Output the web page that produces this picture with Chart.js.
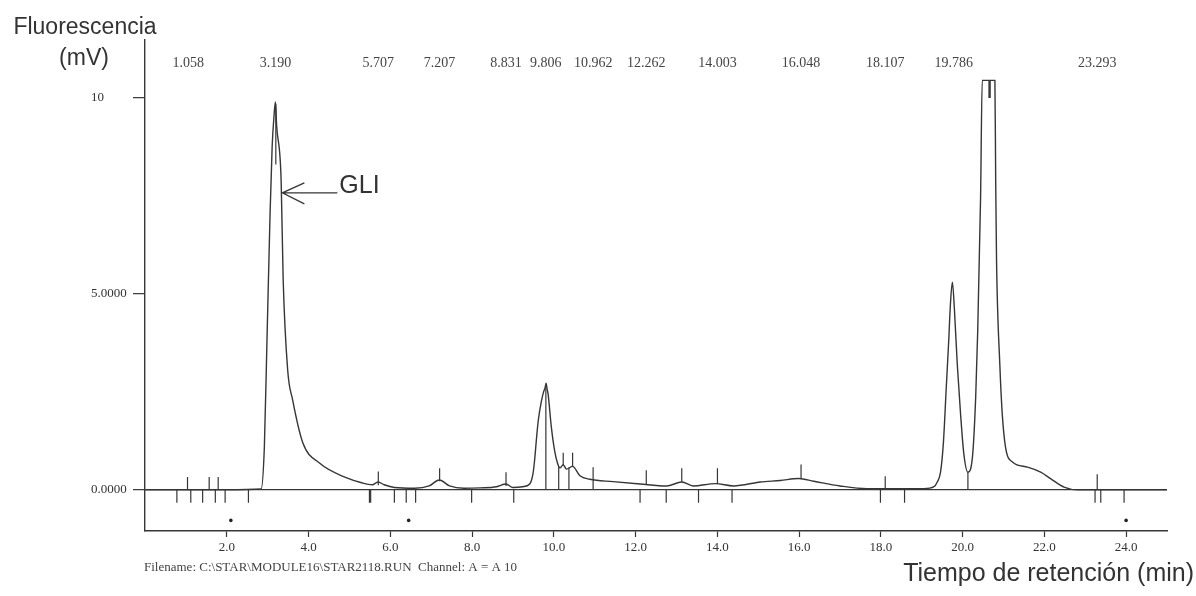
<!DOCTYPE html>
<html>
<head>
<meta charset="utf-8">
<title>Cromatograma</title>
<script src="https://cdn.jsdelivr.net/npm/chart.js@4.4.1/dist/chart.umd.min.js"></script>
<style>
  html, body { margin: 0; padding: 0; background: #fff; }
  #chrom { display: block; }
</style>
</head>
<body>
<canvas id="chrom" width="1196" height="596"></canvas>
<script>
// Retention time (min) and detector signal (mV)
const traceTime = [0, 1.0, 2.0, 2.84, 2.92, 2.98, 3.06, 3.11, 3.16, 3.19, 3.22, 3.33, 3.38, 3.49, 3.61, 3.86, 4.26, 4.92, 5.3, 5.56, 5.7, 5.85, 6.1, 6.6, 6.95, 7.2, 7.45, 7.8, 8.2, 8.6, 8.83, 9.0, 9.24, 9.41, 9.49, 9.53, 9.58, 9.62, 9.7, 9.75, 9.79, 9.81, 9.84, 9.86, 9.94, 10.02, 10.11, 10.15, 10.23, 10.31, 10.46, 10.64, 10.88, 11.45, 12.11, 12.76, 13.13, 13.41, 13.95, 14.4, 15.05, 15.54, 15.99, 16.36, 17.0, 17.66, 19.05, 19.3, 19.38, 19.46, 19.53, 19.6, 19.66, 19.7, 19.75, 19.8, 19.87, 19.95, 20.03, 20.13, 20.24, 20.32, 20.37, 20.44, 20.48, 20.79, 20.81, 20.83, 20.91, 20.97, 21.05, 21.22, 21.59, 21.91, 22.16, 22.48, 22.81, 25];
const traceSignal = [0, 0, 0, 0.02, 1.1, 3.65, 7.07, 8.75, 9.6, 9.9, 9.3, 7.9, 5.36, 3.06, 2.3, 1.2, 0.69, 0.31, 0.18, 0.13, 0.2, 0.13, 0.06, 0.04, 0.1, 0.25, 0.1, 0.04, 0.05, 0.08, 0.15, 0.06, 0.08, 0.15, 0.41, 0.75, 1.35, 1.77, 2.28, 2.5, 2.62, 2.72, 2.55, 2.45, 1.6, 1.0, 0.62, 0.56, 0.64, 0.53, 0.6, 0.36, 0.27, 0.21, 0.15, 0.1, 0.2, 0.1, 0.16, 0.1, 0.2, 0.24, 0.29, 0.22, 0.1, 0.03, 0.03, 0.08, 0.2, 0.45, 1.2, 2.6, 3.8, 4.7, 5.3, 4.6, 3.2, 1.94, 0.92, 0.45, 0.83, 2.36, 4.06, 7.47, 10.45, 10.45, 7.82, 5.87, 3.21, 1.94, 1.09, 0.71, 0.58, 0.45, 0.28, 0.07, 0, 0];

// Integrated peaks, labelled across the top
const peakTimes = [1.058, 3.190, 5.707, 7.207, 8.831, 9.806, 10.962, 12.262, 14.003, 16.048, 18.107, 19.786, 23.293];

// Peak marks: [time, from mV, to mV]
const apexMarks = [[1.04, 0, 0.33], [1.57, 0, 0.33], [1.79, 0, 0.33], [5.707, 0.12, 0.47], [7.207, 0.22, 0.55], [8.831, 0.1, 0.45], [10.23, 0.62, 0.95], [10.46, 0.6, 0.95], [10.962, 0, 0.58], [12.262, 0.15, 0.5], [13.13, 0.2, 0.55], [14.003, 0.15, 0.55], [16.048, 0.28, 0.65], [18.107, 0, 0.35], [23.293, 0, 0.4]];
const dropLines = [[3.2, 8.3, 9.85], [9.806, 0, 2.65], [10.12, 0, 0.6], [10.37, 0, 0.57], [20.13, 0, 0.45], [20.645, 10.0, 10.45], [20.675, 10.0, 10.45]];
const baseTicks = [0.78, 1.12, 1.41, 1.72, 1.96, 2.53, 5.49, 5.52, 6.1, 6.39, 6.62, 7.99, 9.02, 12.11, 12.75, 13.54, 14.36, 17.99, 18.58, 23.24, 23.38, 23.95];
const eventTimes = [2.1, 6.45, 24.0];
const eventLevel = -0.78;

// Axis ticks
const xTicks = [2, 4, 6, 8, 10, 12, 14, 16, 18, 20, 22, 24];
const yTicks = [0, 5, 10];
const yTickLabels = ["0.0000", "5.0000", "10"];

const ink = "#363636";
const serif = "'Liberation Serif', 'Times New Roman', serif";
const sans = "'Liberation Sans', Arial, sans-serif";

const traceData = traceTime.map((t, i) => ({ x: t, y: traceSignal[i] }));

const markData = [];
apexMarks.concat(dropLines).forEach(m => {
  markData.push({ x: m[0], y: m[1] }, { x: m[0], y: m[2] }, { x: m[0], y: null });
});
baseTicks.forEach(t => {
  markData.push({ x: t, y: 0 }, { x: t, y: -0.33 }, { x: t, y: null });
});

const eventData = eventTimes.map(t => ({ x: t, y: eventLevel }));

// titles, peak times, GLI arrow and run info
const textPlugin = {
  id: "chromText",
  afterDraw(chart) {
    const ctx = chart.ctx;
    const xs = chart.scales.x, ys = chart.scales.y;
    ctx.save();
    ctx.fillStyle = "#333";
    ctx.textAlign = "center";
    ctx.textBaseline = "alphabetic";
    ctx.font = "23px " + sans;
    ctx.fillText("Fluorescencia", 85, 34);
    ctx.fillText("(mV)", 84, 65);

    ctx.font = "14px " + serif;
    ctx.fillStyle = "#444";
    ctx.textBaseline = "middle";
    peakTimes.forEach(t => {
      ctx.fillText(t.toFixed(3), xs.getPixelForValue(t), 63);
    });

    // GLI arrow
    const ax = xs.getPixelForValue(3.36), ay = ys.getPixelForValue(7.58);
    ctx.strokeStyle = ink;
    ctx.lineWidth = 1.3;
    ctx.beginPath();
    ctx.moveTo(ax + 55, ay);
    ctx.lineTo(ax, ay);
    ctx.moveTo(ax + 22, ay - 10);
    ctx.lineTo(ax, ay);
    ctx.lineTo(ax + 22, ay + 11);
    ctx.stroke();
    ctx.fillStyle = "#333";
    ctx.textAlign = "left";
    ctx.textBaseline = "alphabetic";
    ctx.font = "25px " + sans;
    ctx.fillText("GLI", ax + 57, ay);

    ctx.font = "13px " + serif;
    ctx.fillStyle = "#444";
    ctx.fillText("Filename: C:\\STAR\\MODULE16\\STAR2118.RUN  Channel: A = A 10", 144, 571);

    ctx.font = "25px " + sans;
    ctx.fillStyle = "#333";
    ctx.textAlign = "right";
    ctx.fillText("Tiempo de retención (min)", 1194, 581);
    ctx.restore();
  }
};

new Chart(document.getElementById("chrom").getContext("2d"), {
  type: "line",
  data: {
    datasets: [
      {
        data: traceData,
        borderColor: ink,
        borderWidth: 1.4,
        pointRadius: 0,
        cubicInterpolationMode: "monotone"
      },
      {
        data: markData,
        borderColor: ink,
        borderWidth: 1.2,
        pointRadius: 0,
        spanGaps: false
      },
      {
        data: eventData,
        showLine: false,
        pointRadius: 1.8,
        pointBackgroundColor: "#222",
        pointBorderWidth: 0
      }
    ]
  },
  options: {
    responsive: false,
    animation: false,
    events: [],
    layout: { padding: { left: 91, right: 29, top: 40, bottom: 0 } },
    plugins: { legend: { display: false }, tooltip: { enabled: false } },
    scales: {
      x: {
        type: "linear",
        min: 0,
        max: 25,
        afterBuildTicks: s => { s.ticks = xTicks.map(v => ({ value: v })); },
        afterFit: s => { s.height = 65; },
        ticks: {
          callback: v => v.toFixed(1),
          font: { family: serif, size: 13 },
          color: "#333",
          padding: 3,
          maxRotation: 0,
          autoSkip: false
        },
        grid: { drawOnChartArea: false, tickLength: 6, tickColor: ink, tickWidth: 1.2 },
        border: { color: ink, width: 1.4 }
      },
      y: {
        min: -1.05,
        max: 11.48,
        afterBuildTicks: s => { s.ticks = yTicks.map(v => ({ value: v })); },
        afterFit: s => { s.width = 54; },
        ticks: {
          callback: v => yTickLabels[yTicks.indexOf(v)],
          crossAlign: "far",
          font: { family: serif, size: 13 },
          color: "#333",
          padding: 6
        },
        grid: {
          color: c => (c.tick && c.tick.value === 0 ? ink : "rgba(0,0,0,0)"),
          lineWidth: 1.3,
          tickLength: 12,
          tickColor: ink,
          tickWidth: 1.2
        },
        border: { color: ink, width: 1.4 }
      }
    }
  },
  plugins: [textPlugin]
});
</script>
</body>
</html>
